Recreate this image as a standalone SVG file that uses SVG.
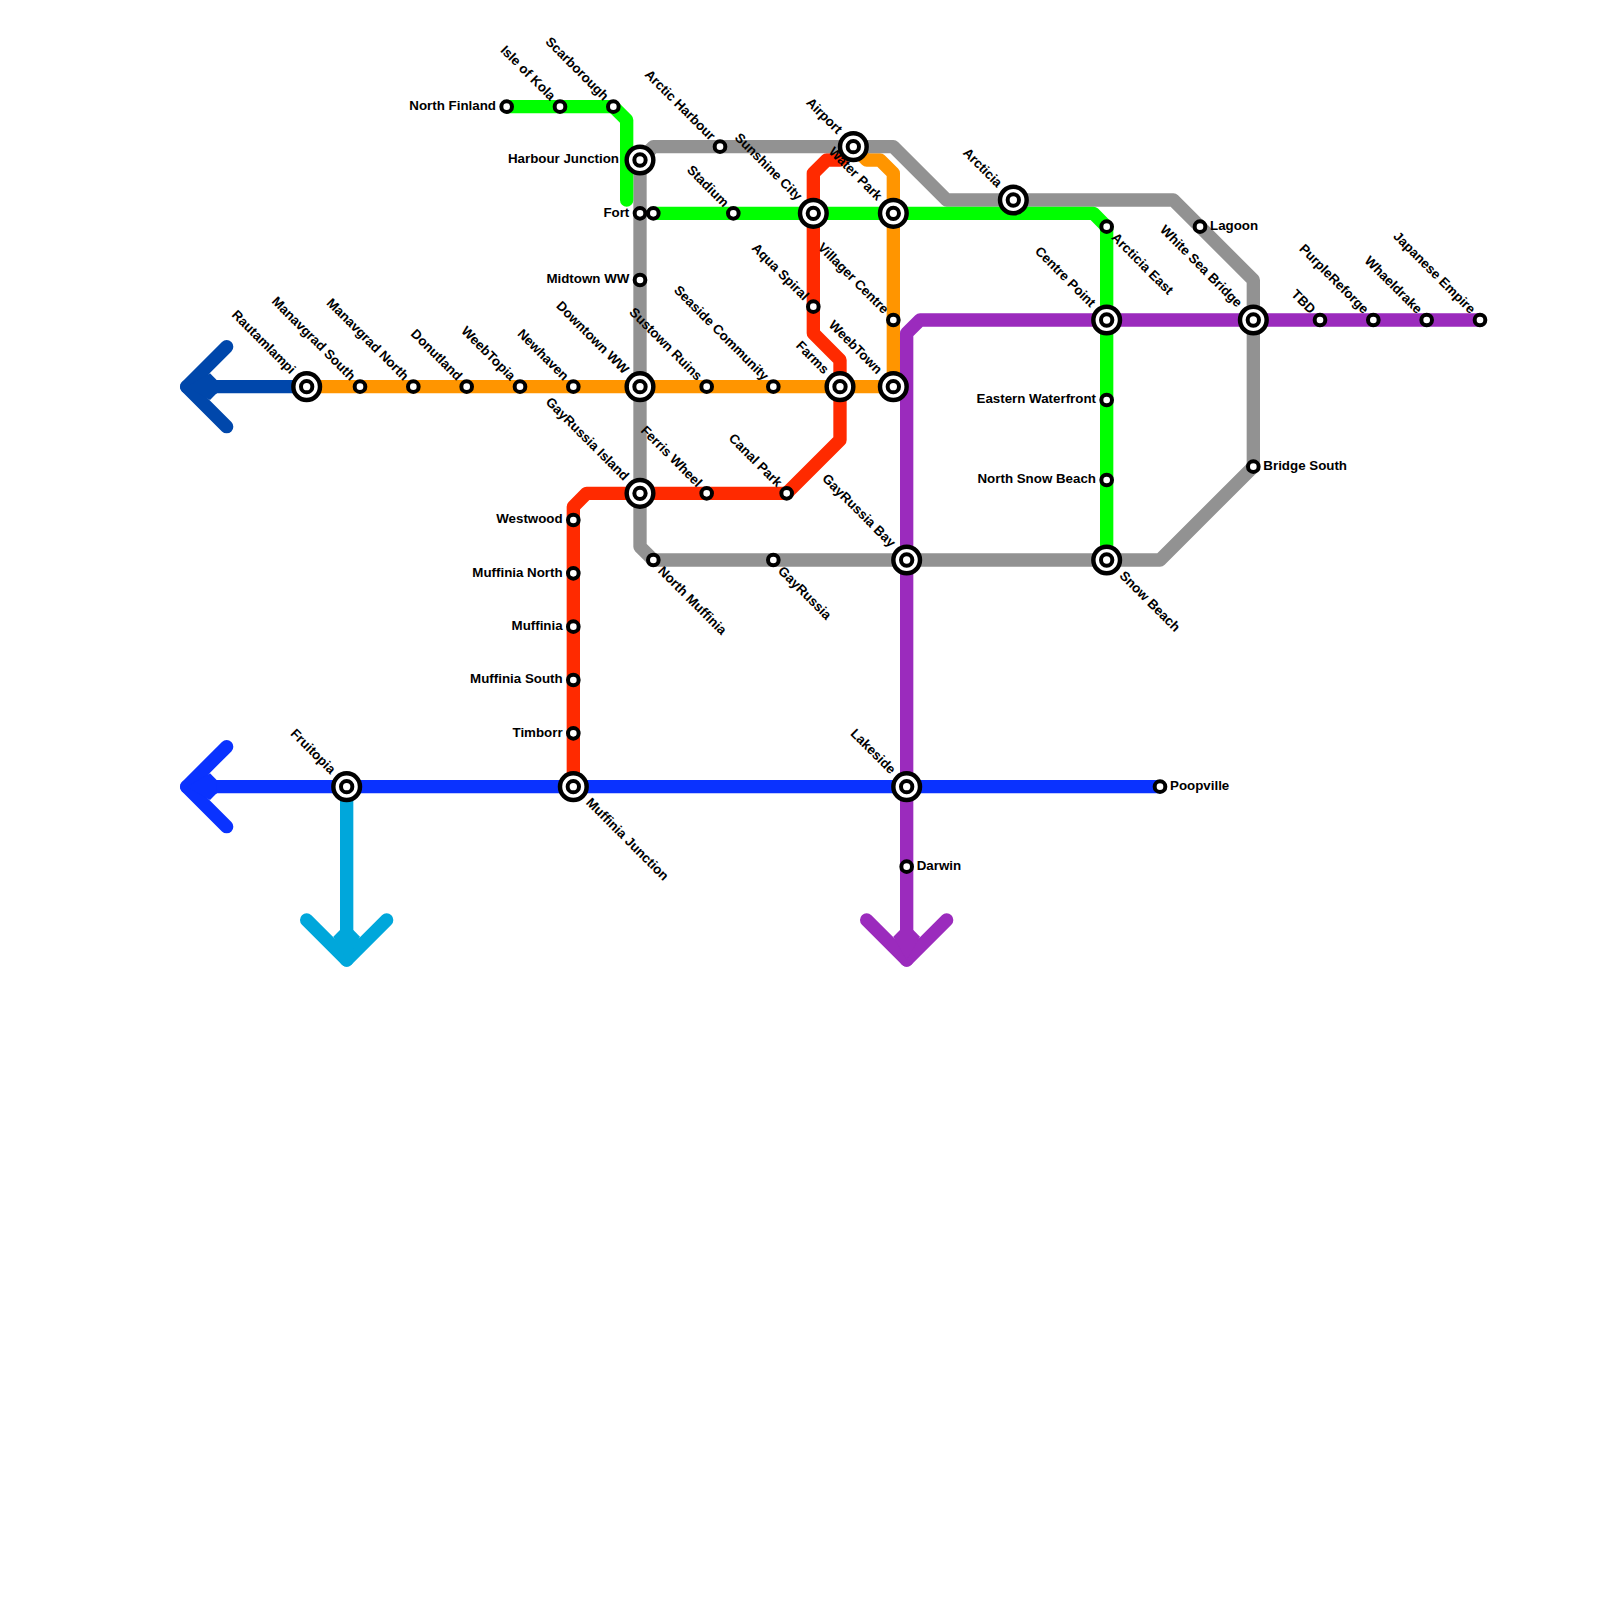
<svg xmlns="http://www.w3.org/2000/svg" width="1600" height="1600" viewBox="0 0 1600 1600">
<style>
.ln{fill:none;stroke-width:1;stroke-linecap:round;stroke-linejoin:round}
.lf{stroke:none}
.o{fill:#fff;stroke:#000;stroke-width:4.44}
.i{fill:#fff;stroke:#000;stroke-width:4}
text{font-family:"Liberation Sans",Arial,sans-serif;font-size:13.33px;font-weight:700;fill:#000}
.e{text-anchor:end}
</style>
<defs>
<g id="ix"><circle class="o" r="13.33"/><circle class="i" r="5.67"/></g>
<circle id="st" class="i" r="5.33"/>
</defs>
<rect width="1600" height="1600" fill="#fff"/>
<g id="connectors" transform="scale(13.33333)">
<path class="ln" stroke="#ff9500" d="M64 11L65 12H66L67 13V29H23"/>
<path class="ln" stroke="#ff2a00" d="M43 59V38L44 37H59L63 33V27L61 25V13L62 12H63L64 11"/>
<path class="ln" stroke="#929292" d="M49 11H67L71 15H88L94 21V35L87 42H49L48 41V12Z"/>
<path class="ln" stroke="#00ff00" d="M38 8H46L47 9V15"/>
<path class="ln" stroke="#00ff00" d="M49 16H82L83 17V42"/>
<path class="ln" stroke="#0047ab" d="M23 29H14"/>
<path class="ln" stroke="#0047ab" d="M17 26L14 29L17 32"/>
<path class="lf" fill="#0047ab" d="M14 29l1.75-1l.5 .5v1l-.5 .5Z"/>
<path class="ln" stroke="#0a32ff" d="M87 59H14"/>
<path class="ln" stroke="#0a32ff" d="M17 56L14 59L17 62"/>
<path class="lf" fill="#0a32ff" d="M14 59l1.75-1l.5 .5v1l-.5 .5Z"/>
<path class="ln" stroke="#00a7db" d="M26 59V72"/>
<path class="ln" stroke="#00a7db" d="M23 69L26 72L29 69"/>
<path class="lf" fill="#00a7db" d="M26 72l1-1.75l-.5-.5h-1l-.5 .5Z"/>
<path class="ln" stroke="#9b2bbd" d="M111 24H69L68 25V72"/>
<path class="ln" stroke="#9b2bbd" d="M65 69L68 72L71 69"/>
<path class="lf" fill="#9b2bbd" d="M68 72l1-1.75l-.5-.5h-1l-.5 .5Z"/>
</g>
<g id="n-north-finland" transform="translate(506.67,106.67)"><use href="#st"/><text class="e" x="-10.7" y="3.3">North Finland</text></g>
<g id="n-isle-of-kola" transform="translate(560,106.67)"><use href="#st"/><text class="e" transform="translate(-10,-5.5) rotate(45)">Isle of Kola</text></g>
<g id="n-scarborough" transform="translate(613.33,106.67)"><use href="#st"/><text class="e" transform="translate(-10,-5.5) rotate(45)">Scarborough</text></g>
<g id="n-harbour-junction" transform="translate(640,160)"><use href="#ix"/><text class="e" x="-21" y="3.3">Harbour Junction</text></g>
<g id="n-fort" transform="translate(640,213.33)"><use href="#st"/><text class="e" x="-10.7" y="3.3">Fort</text></g>
<g id="n-fort-east" transform="translate(653.33,213.33)"><use href="#st"/></g>
<g id="n-midtown-ww" transform="translate(640,280)"><use href="#st"/><text class="e" x="-10.7" y="3.3">Midtown WW</text></g>
<g id="n-arctic-harbour" transform="translate(720,146.67)"><use href="#st"/><text class="e" transform="translate(-10,-5.5) rotate(45)">Arctic Harbour</text></g>
<g id="n-airport" transform="translate(853.33,146.67)"><use href="#ix"/><text class="e" transform="translate(-16.5,-12) rotate(45)">Airport</text></g>
<g id="n-stadium" transform="translate(733.33,213.33)"><use href="#st"/><text class="e" transform="translate(-10,-5.5) rotate(45)">Stadium</text></g>
<g id="n-sunshine-city" transform="translate(813.33,213.33)"><use href="#ix"/><text class="e" transform="translate(-16.5,-12) rotate(45)">Sunshine City</text></g>
<g id="n-water-park" transform="translate(893.33,213.33)"><use href="#ix"/><text class="e" transform="translate(-16.5,-12) rotate(45)">Water Park</text></g>
<g id="n-aqua-spiral" transform="translate(813.33,306.67)"><use href="#st"/><text class="e" transform="translate(-10,-5.5) rotate(45)">Aqua Spiral</text></g>
<g id="n-villager-centre" transform="translate(893.33,320)"><use href="#st"/><text class="e" transform="translate(-10,-5.5) rotate(45)">Villager Centre</text></g>
<g id="n-arcticia" transform="translate(1013.33,200)"><use href="#ix"/><text class="e" transform="translate(-16.5,-12) rotate(45)">Arcticia</text></g>
<g id="n-arcticia-east" transform="translate(1106.67,226.67)"><use href="#st"/><text transform="translate(4,11.7) rotate(45)">Arcticia East</text></g>
<g id="n-lagoon" transform="translate(1200,226.67)"><use href="#st"/><text x="10" y="3.3">Lagoon</text></g>
<g id="n-centre-point" transform="translate(1106.67,320)"><use href="#ix"/><text class="e" transform="translate(-16.5,-12) rotate(45)">Centre Point</text></g>
<g id="n-white-sea-bridge" transform="translate(1253.33,320)"><use href="#ix"/><text class="e" transform="translate(-16.5,-12) rotate(45)">White Sea Bridge</text></g>
<g id="n-tbd" transform="translate(1320,320)"><use href="#st"/><text class="e" transform="translate(-10,-5.5) rotate(45)">TBD</text></g>
<g id="n-purplereforge" transform="translate(1373.33,320)"><use href="#st"/><text class="e" transform="translate(-10,-5.5) rotate(45)">PurpleReforge</text></g>
<g id="n-whaeldrake" transform="translate(1426.67,320)"><use href="#st"/><text class="e" transform="translate(-10,-5.5) rotate(45)">Whaeldrake</text></g>
<g id="n-japanese-empire" transform="translate(1480,320)"><use href="#st"/><text class="e" transform="translate(-10,-5.5) rotate(45)">Japanese Empire</text></g>
<g id="n-rautamlampi" transform="translate(306.67,386.67)"><use href="#ix"/><text class="e" transform="translate(-16.5,-12) rotate(45)">Rautamlampi</text></g>
<g id="n-manavgrad-south" transform="translate(360,386.67)"><use href="#st"/><text class="e" transform="translate(-10,-5.5) rotate(45)">Manavgrad South</text></g>
<g id="n-manavgrad-north" transform="translate(413.33,386.67)"><use href="#st"/><text class="e" transform="translate(-10,-5.5) rotate(45)">Manavgrad North</text></g>
<g id="n-donutland" transform="translate(466.67,386.67)"><use href="#st"/><text class="e" transform="translate(-10,-5.5) rotate(45)">Donutland</text></g>
<g id="n-weebtopia" transform="translate(520,386.67)"><use href="#st"/><text class="e" transform="translate(-10,-5.5) rotate(45)">WeebTopia</text></g>
<g id="n-newhaven" transform="translate(573.33,386.67)"><use href="#st"/><text class="e" transform="translate(-10,-5.5) rotate(45)">Newhaven</text></g>
<g id="n-downtown-ww" transform="translate(640,386.67)"><use href="#ix"/><text class="e" transform="translate(-16.5,-12) rotate(45)">Downtown WW</text></g>
<g id="n-sustown-ruins" transform="translate(706.67,386.67)"><use href="#st"/><text class="e" transform="translate(-10,-5.5) rotate(45)">Sustown Ruins</text></g>
<g id="n-seaside-community" transform="translate(773.33,386.67)"><use href="#st"/><text class="e" transform="translate(-10,-5.5) rotate(45)">Seaside Community</text></g>
<g id="n-farms" transform="translate(840,386.67)"><use href="#ix"/><text class="e" transform="translate(-16.5,-12) rotate(45)">Farms</text></g>
<g id="n-weebtown" transform="translate(893.33,386.67)"><use href="#ix"/><text class="e" transform="translate(-16.5,-12) rotate(45)">WeebTown</text></g>
<g id="n-eastern-waterfront" transform="translate(1106.67,400)"><use href="#st"/><text class="e" x="-10.7" y="3.3">Eastern Waterfront</text></g>
<g id="n-north-snow-beach" transform="translate(1106.67,480)"><use href="#st"/><text class="e" x="-10.7" y="3.3">North Snow Beach</text></g>
<g id="n-bridge-south" transform="translate(1253.33,466.67)"><use href="#st"/><text x="10" y="3.3">Bridge South</text></g>
<g id="n-gayrussia-island" transform="translate(640,493.33)"><use href="#ix"/><text class="e" transform="translate(-16.5,-12) rotate(45)">GayRussia Island</text></g>
<g id="n-ferris-wheel" transform="translate(706.67,493.33)"><use href="#st"/><text class="e" transform="translate(-10,-5.5) rotate(45)">Ferris Wheel</text></g>
<g id="n-canal-park" transform="translate(786.67,493.33)"><use href="#st"/><text class="e" transform="translate(-10,-5.5) rotate(45)">Canal Park</text></g>
<g id="n-westwood" transform="translate(573.33,520)"><use href="#st"/><text class="e" x="-10.7" y="3.3">Westwood</text></g>
<g id="n-north-muffinia" transform="translate(653.33,560)"><use href="#st"/><text transform="translate(4,11.7) rotate(45)">North Muffinia</text></g>
<g id="n-gayrussia" transform="translate(773.33,560)"><use href="#st"/><text transform="translate(4,11.7) rotate(45)">GayRussia</text></g>
<g id="n-gayrussia-bay" transform="translate(906.67,560)"><use href="#ix"/><text class="e" transform="translate(-16.5,-12) rotate(45)">GayRussia Bay</text></g>
<g id="n-snow-beach" transform="translate(1106.67,560)"><use href="#ix"/><text transform="translate(12,16.5) rotate(45)">Snow Beach</text></g>
<g id="n-muffinia-north" transform="translate(573.33,573.33)"><use href="#st"/><text class="e" x="-10.7" y="3.3">Muffinia North</text></g>
<g id="n-muffinia" transform="translate(573.33,626.67)"><use href="#st"/><text class="e" x="-10.7" y="3.3">Muffinia</text></g>
<g id="n-muffinia-south" transform="translate(573.33,680)"><use href="#st"/><text class="e" x="-10.7" y="3.3">Muffinia South</text></g>
<g id="n-timborr" transform="translate(573.33,733.33)"><use href="#st"/><text class="e" x="-10.7" y="3.3">Timborr</text></g>
<g id="n-fruitopia" transform="translate(346.67,786.67)"><use href="#ix"/><text class="e" transform="translate(-16.5,-12) rotate(45)">Fruitopia</text></g>
<g id="n-muffinia-junction" transform="translate(573.33,786.67)"><use href="#ix"/><text transform="translate(12,16.5) rotate(45)">Muffinia Junction</text></g>
<g id="n-lakeside" transform="translate(906.67,786.67)"><use href="#ix"/><text class="e" transform="translate(-16.5,-12) rotate(45)">Lakeside</text></g>
<g id="n-poopville" transform="translate(1160,786.67)"><use href="#st"/><text x="10" y="3.3">Poopville</text></g>
<g id="n-darwin" transform="translate(906.67,866.67)"><use href="#st"/><text x="10" y="3.3">Darwin</text></g>
</svg>
